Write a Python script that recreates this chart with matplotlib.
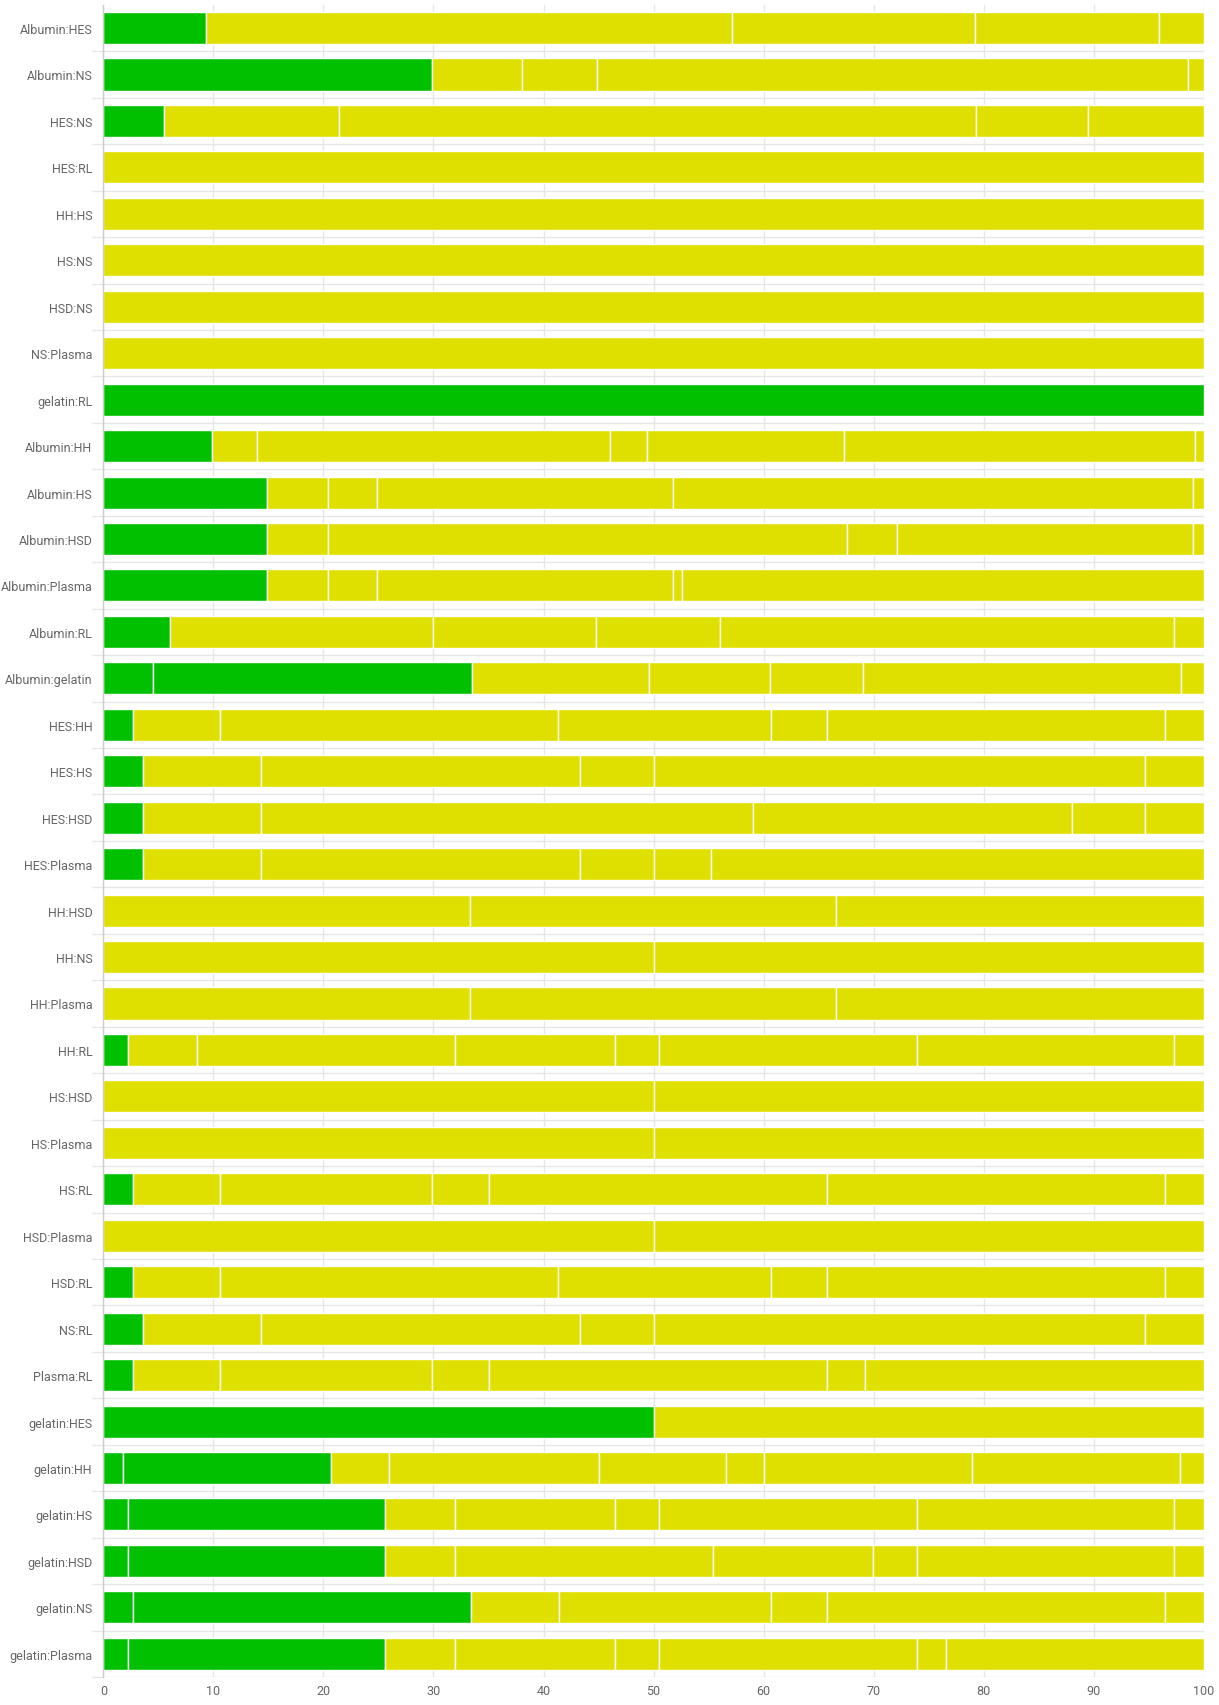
import matplotlib
matplotlib.use("Agg")
import matplotlib.pyplot as plt
import numpy as np

categories = [
    "Albumin:HES", "Albumin:NS", "HES:NS", "HES:RL", "HH:HS", "HS:NS", "HSD:NS",
    "NS:Plasma", "gelatin:RL", "Albumin:HH", "Albumin:HS", "Albumin:HSD",
    "Albumin:Plasma", "Albumin:RL", "Albumin:gelatin", "HES:HH", "HES:HS",
    "HES:HSD", "HES:Plasma", "HH:HSD", "HH:NS", "HH:Plasma", "HH:RL", "HS:HSD",
    "HS:Plasma", "HS:RL", "HSD:Plasma", "HSD:RL", "NS:RL", "Plasma:RL",
    "gelatin:HES", "gelatin:HH", "gelatin:HS", "gelatin:HSD", "gelatin:NS",
    "gelatin:Plasma",
]

# segment widths (percent) for each bar, left to right
segments = [
    [9.3, 47.8, 22.1, 16.7, 4.1],
    [29.9, 8.1, 6.9, 53.7, 1.4],
    [5.5, 15.9, 57.9, 10.2, 10.5],
    [100],
    [100],
    [100],
    [100],
    [100],
    [100],
    [9.9, 4.1, 32.0, 3.4, 17.9, 31.9, 0.8],
    [14.9, 5.5, 4.5, 26.9, 47.2, 1.0],
    [14.9, 5.5, 47.2, 4.5, 26.9, 1.0],
    [14.9, 5.5, 4.5, 26.9, 0.8, 47.4],
    [6.1, 23.9, 14.8, 11.2, 41.3, 2.7],
    [4.5, 29.0, 16.1, 11.0, 8.4, 28.9, 2.1],
    [2.7, 7.9, 30.7, 19.4, 5.1, 30.7, 3.5],
    [3.6, 10.7, 29.0, 6.7, 44.7, 5.3],
    [3.6, 10.7, 44.7, 29.0, 6.7, 5.3],
    [3.6, 10.7, 29.0, 6.7, 5.2, 44.8],
    [33.3, 33.3, 33.4],
    [50, 50],
    [33.3, 33.3, 33.4],
    [2.2, 6.3, 23.5, 14.5, 4.0, 23.4, 23.4, 2.7],
    [50, 50],
    [50, 50],
    [2.7, 7.9, 19.3, 5.1, 30.8, 30.7, 3.5],
    [50, 50],
    [2.7, 7.9, 30.7, 19.4, 5.1, 30.7, 3.5],
    [3.6, 10.7, 29.0, 6.7, 44.7, 5.3],
    [2.7, 7.9, 19.3, 5.1, 30.8, 3.4, 30.8],
    [50, 50],
    [1.8, 18.9, 5.3, 19.0, 11.6, 3.4, 18.9, 18.9, 2.2],
    [2.2, 23.4, 6.4, 14.5, 4.0, 23.4, 23.4, 2.7],
    [2.2, 23.4, 6.4, 23.4, 14.5, 4.0, 23.4, 2.7],
    [2.7, 30.7, 8.0, 19.3, 5.1, 30.7, 3.5],
    [2.2, 23.4, 6.4, 14.5, 4.0, 23.4, 2.7, 23.4],
]

# how many leading segments are green
n_green = [1, 1, 1, 0, 0, 0, 0, 0, 1, 1, 1, 1, 1, 1, 2, 1, 1, 1, 1, 0, 0, 0, 1, 0,
           0, 1, 0, 1, 1, 1, 1, 2, 2, 2, 2, 2]

x_ticks = [0, 10, 20, 30, 40, 50, 60, 70, 80, 90, 100]

green = "#00c000"
yellow = "#e0e000"
grid_col = "#e6e6e6"
label_col = "#666666"

plt.rcParams["font.family"] = ["Roboto", "DejaVu Sans"]

fig = plt.figure(figsize=(12.19, 17.06), dpi=100)
ax = fig.add_axes([0.0848, 0.0164, 0.9027, 0.9802])

for i, (vals, ng) in enumerate(zip(segments, n_green)):
    lefts = np.concatenate([[0], np.cumsum(vals)[:-1]])
    colors = [green] * ng + [yellow] * (len(vals) - ng)
    ax.barh([i] * len(vals), vals, left=lefts, height=0.69, color=colors,
            edgecolor="white", linewidth=1.0, zorder=2)

n = len(categories)
ax.set_xlim(0, 100)
ax.set_ylim(n - 0.5, -0.5)

ax.set_xticks(x_ticks)
ax.set_xticklabels([str(t) for t in x_ticks])
ax.set_yticks(range(n))
ax.set_yticklabels(categories)
ax.set_yticks(np.arange(0.5, n, 1.0), minor=True)

ax.set_axisbelow(True)
ax.grid(axis="x", which="major", color=grid_col, linewidth=1.0)
ax.grid(axis="y", which="minor", color=grid_col, linewidth=1.0)

ax.tick_params(axis="x", length=0, pad=5, labelsize=9, labelcolor=label_col)
ax.tick_params(axis="y", which="major", length=0, pad=8, labelsize=9,
               labelcolor=label_col)
ax.tick_params(axis="y", which="minor", length=8, color=grid_col, width=1.0)

for s in ["top", "right", "bottom"]:
    ax.spines[s].set_visible(False)
ax.spines["left"].set_color("#cccccc")
ax.spines["left"].set_linewidth(1.0)

fig.savefig("out.png", dpi=100)
